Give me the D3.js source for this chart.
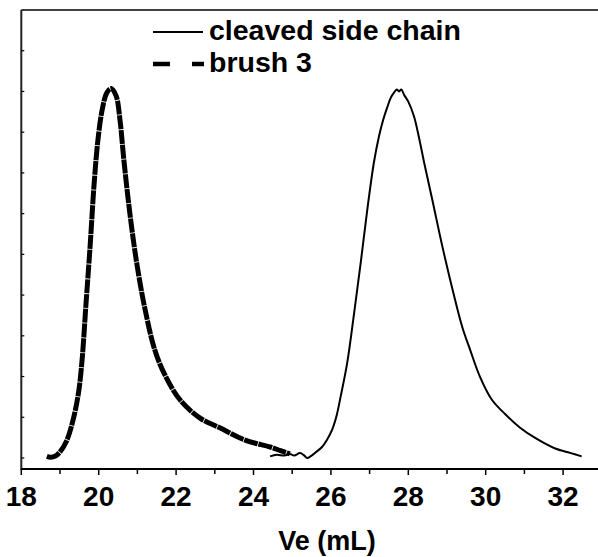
<!DOCTYPE html>
<html>
<head>
<meta charset="utf-8">
<script src="https://cdn.jsdelivr.net/npm/d3@7"></script>
<style>
  body { margin: 0; background: #fff; }
  text { font-family: "Liberation Sans", Arial, sans-serif; font-weight: bold; fill: #000; }
</style>
</head>
<body>
<svg id="chart" width="598" height="557"></svg>
<script>
// elution volume (mL) and normalized detector signal for each trace
var cleavedVe = [24.43, 24.6, 24.8, 24.94, 25.05, 25.2, 25.3, 25.38, 25.5, 25.62, 25.77, 25.9, 26.03, 26.15, 26.25,
    26.42, 26.6, 26.77, 26.93, 27.11, 27.24, 27.35, 27.46, 27.55, 27.63, 27.7, 27.76, 27.82, 27.89, 28.0, 28.15, 28.28,
    28.41, 28.62, 28.9, 29.21, 29.4, 29.6, 29.85, 30.16, 30.5, 30.88, 31.3, 31.78, 32.2, 32.48];
var cleavedSignal = [0.004, 0.008, 0.006, 0.01, 0.006, 0.012, 0.007, 0.0, 0.006, 0.015, 0.027, 0.045, 0.069, 0.105, 0.15,
    0.233, 0.356, 0.479, 0.602, 0.725, 0.789, 0.83, 0.862, 0.885, 0.897, 0.905, 0.9, 0.905, 0.892, 0.875, 0.838, 0.785,
    0.725, 0.634, 0.511, 0.388, 0.32, 0.265, 0.2, 0.143, 0.108, 0.075, 0.048, 0.024, 0.012, 0.004];

var brushVe = [18.66, 18.75, 18.87, 19.0, 19.16, 19.31, 19.47, 19.57, 19.67, 19.78, 19.88, 19.98, 20.09, 20.21, 20.32,
    20.45, 20.55, 20.65, 20.81, 20.99, 21.2, 21.45, 21.71, 22.1, 22.62, 23.13, 23.78, 24.43, 24.7, 24.94];
var brushSignal = [0.004, 0.002, 0.004, 0.015, 0.04, 0.083, 0.155, 0.24, 0.376, 0.523, 0.671, 0.781, 0.855, 0.897, 0.907,
    0.889, 0.83, 0.732, 0.597, 0.474, 0.364, 0.265, 0.204, 0.143, 0.098, 0.074, 0.044, 0.027, 0.018, 0.01];

// x axis ticks and legend entries
var xMajorTicks = [18, 20, 22, 24, 26, 28, 30, 32];
var xMinorTicks = [19, 21, 23, 25, 27, 29, 31, 33];
var yTicks = [0, 0.1, 0.2, 0.3, 0.4, 0.5, 0.6, 0.7, 0.8, 0.9, 1.0];
var legendLabels = ["cleaved side chain", "brush 3"];

var svg = d3.select("#chart");

// plot area bounds (named so they don't clash with window.top etc.)
var plotLeft = 21.3, plotRight = 598, plotTop = 10, plotBottom = 469;

var x = d3.scaleLinear().domain([18, 32]).range([21.3, 563.1]);
var y = d3.scaleLinear().domain([-0.027, 1.1]).range([plotBottom, plotTop]);

// zip the series arrays into point pairs
function zip(xs, ys){
    return xs.map(function(v, i){ return [v, ys[i]]; });
}

var line = d3.line()
    .x(function(d){ return x(d[0]); })
    .y(function(d){ return y(d[1]); })
    .curve(d3.curveCatmullRom.alpha(0.5));

// brush 3 trace (thick dashed, dense data makes it look nearly solid)
svg.append("path")
    .attr("d", line(zip(brushVe, brushSignal)))
    .attr("fill", "none")
    .attr("stroke", "#000")
    .attr("stroke-width", 5)
    .attr("stroke-dasharray", "14,0.8")
    .attr("stroke-linejoin", "round");

// cleaved side chain trace (thin solid)
svg.append("path")
    .attr("d", line(zip(cleavedVe, cleavedSignal)))
    .attr("fill", "none")
    .attr("stroke", "#000")
    .attr("stroke-width", 2)
    .attr("stroke-linejoin", "round");

// frame: top edge and left axis
svg.append("line")
    .attr("x1", plotLeft).attr("x2", plotRight).attr("y1", plotTop).attr("y2", plotTop)
    .attr("stroke", "#000").attr("stroke-width", 1.5);
svg.append("line")
    .attr("x1", plotLeft).attr("x2", plotLeft).attr("y1", plotTop).attr("y2", plotBottom + 1)
    .attr("stroke", "#222").attr("stroke-width", 2);

// left axis small inner ticks, no labels
svg.selectAll("line.ytick").data(yTicks).enter().append("line")
    .attr("class", "ytick")
    .attr("x1", plotLeft).attr("x2", plotLeft + 3)
    .attr("y1", function(d){ return y(d); })
    .attr("y2", function(d){ return y(d); })
    .attr("stroke", "#000").attr("stroke-width", 1.2);

// bottom axis
var xAxis = svg.append("g").attr("transform", "translate(0," + plotBottom + ")");
xAxis.append("line")
    .attr("x1", plotLeft).attr("x2", plotRight).attr("y1", 0).attr("y2", 0)
    .attr("stroke", "#000").attr("stroke-width", 2);
xAxis.selectAll("line.major").data(xMajorTicks).enter().append("line")
    .attr("class", "major")
    .attr("x1", function(d){ return x(d); }).attr("x2", function(d){ return x(d); })
    .attr("y1", 0).attr("y2", 6)
    .attr("stroke", "#000").attr("stroke-width", 1.5);
xAxis.selectAll("line.minor").data(xMinorTicks).enter().append("line")
    .attr("class", "minor")
    .attr("x1", function(d){ return x(d); }).attr("x2", function(d){ return x(d); })
    .attr("y1", 0).attr("y2", 5)
    .attr("stroke", "#000").attr("stroke-width", 1.5);
xAxis.selectAll("text").data(xMajorTicks).enter().append("text")
    .attr("x", function(d){ return x(d); })
    .attr("y", 37)
    .attr("text-anchor", "middle")
    .style("font-size", "28px")
    .text(function(d){ return d; });

// axis title
svg.append("text")
    .attr("x", 327).attr("y", 550)
    .attr("text-anchor", "middle")
    .style("font-size", "27px")
    .text("Ve (mL)");

// legend
var legend = svg.append("g");
legend.append("line")
    .attr("x1", 153).attr("x2", 203).attr("y1", 32).attr("y2", 32)
    .attr("stroke", "#000").attr("stroke-width", 2);
legend.append("line")
    .attr("x1", 153).attr("x2", 204).attr("y1", 64).attr("y2", 64)
    .attr("stroke", "#000").attr("stroke-width", 4.5)
    .attr("stroke-dasharray", "17,22");
legend.selectAll("text").data(legendLabels).enter().append("text")
    .attr("x", 209)
    .attr("y", function(d, i){ return 40 + i * 32; })
    .style("font-size", "28.5px")
    .text(function(d){ return d; });
</script>
</body>
</html>
